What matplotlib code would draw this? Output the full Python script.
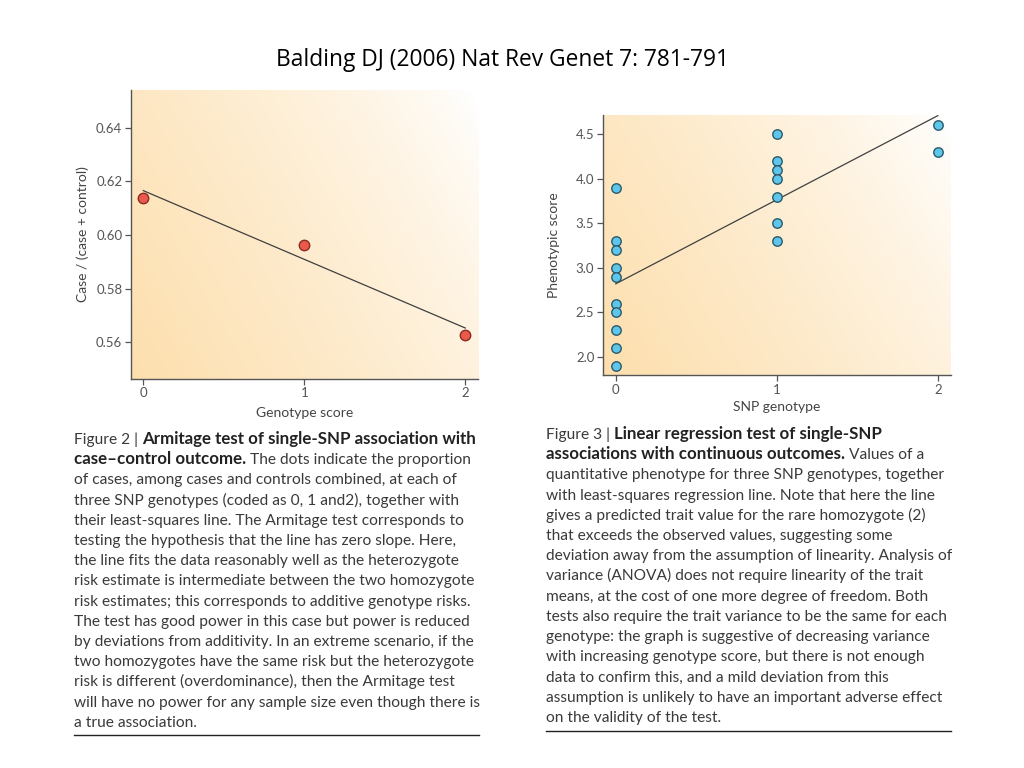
import numpy as np
import matplotlib
matplotlib.use("Agg")
import matplotlib.pyplot as plt
from matplotlib.colors import to_rgb

# ---------------- data ----------------
fig2_genotype = [0, 1, 2]
fig2_case_fraction = [0.6138, 0.5963, 0.5626]
fig2_xticks = [0, 1, 2]
fig2_yticks = [0.56, 0.58, 0.60, 0.62, 0.64]

fig3_genotype = [0] * 10 + [1] * 7 + [2] * 2
fig3_phenotype = [3.9, 3.3, 3.2, 3.0, 2.9, 2.6, 2.5, 2.3, 2.1, 1.9,
                  4.5, 4.2, 4.1, 4.0, 3.8, 3.5, 3.3,
                  4.6, 4.3]
fig3_xticks = [0, 1, 2]
fig3_yticks = [2.0, 2.5, 3.0, 3.5, 4.0, 4.5]

title_text = "Balding DJ (2006) Nat Rev Genet 7: 781-791"

caption2 = [
    [("Figure 2 | ", False), ("Armitage test of single-SNP association with", True)],
    [("case\u2013control outcome.", True), (" The dots indicate the proportion", False)],
    [("of cases, among cases and controls combined, at each of", False)],
    [("three SNP genotypes (coded as 0, 1 and2), together with", False)],
    [("their least-squares line. The Armitage test corresponds to", False)],
    [("testing the hypothesis that the line has zero slope. Here,", False)],
    [("the line fits the data reasonably well as the heterozygote", False)],
    [("risk estimate is intermediate between the two homozygote", False)],
    [("risk estimates; this corresponds to additive genotype risks.", False)],
    [("The test has good power in this case but power is reduced", False)],
    [("by deviations from additivity. In an extreme scenario, if the", False)],
    [("two homozygotes have the same risk but the heterozygote", False)],
    [("risk is different (overdominance), then the Armitage test", False)],
    [("will have no power for any sample size even though there is", False)],
    [("a true association.", False)],
]
caption3 = [
    [("Figure 3 | ", False), ("Linear regression test of single-SNP", True)],
    [("associations with continuous outcomes.", True), (" Values of a", False)],
    [("quantitative phenotype for three SNP genotypes, together", False)],
    [("with least-squares regression line. Note that here the line", False)],
    [("gives a predicted trait value for the rare homozygote (2)", False)],
    [("that exceeds the observed values, suggesting some", False)],
    [("deviation away from the assumption of linearity. Analysis of", False)],
    [("variance (ANOVA) does not require linearity of the trait", False)],
    [("means, at the cost of one more degree of freedom. Both", False)],
    [("tests also require the trait variance to be the same for each", False)],
    [("genotype: the graph is suggestive of decreasing variance", False)],
    [("with increasing genotype score, but there is not enough", False)],
    [("data to confirm this, and a mild deviation from this", False)],
    [("assumption is unlikely to have an important adverse effect", False)],
    [("on the validity of the test.", False)],
]

# ---------------- figure ----------------
W, H = 1024, 768
fig = plt.figure(figsize=(W / 100, H / 100), dpi=100)
fig.patch.set_facecolor("white")
plt.rcParams["font.family"] = ["Lato", "DejaVu Sans"]


def px_axes(x0, y0, x1, y1):
    return fig.add_axes([x0 / W, 1 - y1 / H, (x1 - x0) / W, (y1 - y0) / H])


def gradient_bg(ax):
    n = 200
    xx, yy = np.meshgrid(np.linspace(0, 1, n), np.linspace(0, 1, n))
    s = np.clip((0.68 * xx + 0.32 * yy) * 1.02, 0, 1)
    w = (1 - s) ** 0.75
    orange = np.array(to_rgb("#fddfae"))
    white = np.array([1.0, 1.0, 1.0])
    img = white[None, None, :] + (orange - white)[None, None, :] * w[..., None]
    ax.imshow(img, extent=[0, 1, 0, 1], origin="lower", transform=ax.transAxes,
              aspect="auto", zorder=0, interpolation="bilinear")


def style_axes(ax):
    for sp in ["top", "right"]:
        ax.spines[sp].set_visible(False)
    for sp in ["left", "bottom"]:
        ax.spines[sp].set_color("#555555")
        ax.spines[sp].set_linewidth(1.0)
    ax.tick_params(axis="both", direction="out", length=4, width=0.9,
                   color="#555555", labelcolor="#555555", labelsize=9.5, pad=2)


# ---- Figure 2 chart ----
ax1 = px_axes(130.7, 90, 478, 379)
gradient_bg(ax1)
ax1.set_xlim(-0.078, 2.079)
ax1.set_ylim(0.5463, 0.654)
b1 = np.polyfit(fig2_genotype, fig2_case_fraction, 1)
xl = np.array([min(fig2_genotype), max(fig2_genotype)])
ax1.plot(xl, np.polyval(b1, xl), color="#404040", lw=0.9, zorder=2)
ax1.plot(fig2_genotype, fig2_case_fraction, "o", ms=7.5, mfc="#ea5a4c",
         mec="#8a2a20", mew=1.0, zorder=3, clip_on=False)
ax1.set_xticks(fig2_xticks)
ax1.set_xticklabels([str(v) for v in fig2_xticks])
ax1.set_yticks(fig2_yticks)
ax1.set_yticklabels([f"{v:.2f}" for v in fig2_yticks])
style_axes(ax1)
ax1.set_xlabel("Genotype score", fontsize=10, color="#444444")
ax1.set_ylabel("Case / (case + control)", fontsize=10, color="#444444")
ax1.xaxis.set_label_coords(0.5, -28 / 289)
ax1.yaxis.set_label_coords(-42 / 347.3, 0.5)

# ---- Figure 3 chart ----
ax2 = px_axes(602.7, 115, 950.7, 375.3)
gradient_bg(ax2)
ax2.set_xlim(-0.081, 2.08)
ax2.set_ylim(1.795, 4.717)
b2 = np.polyfit(fig3_genotype, fig3_phenotype, 1)
xl = np.array([min(fig3_genotype), max(fig3_genotype)])
ax2.plot(xl, np.polyval(b2, xl), color="#404040", lw=0.9, zorder=2)
ax2.plot(fig3_genotype, fig3_phenotype, "o", ms=6.8, mfc="#5ec6ea",
         mec="#2a5a6c", mew=1.0, zorder=3, clip_on=False)
ax2.set_xticks(fig3_xticks)
ax2.set_xticklabels([str(v) for v in fig3_xticks])
ax2.set_yticks(fig3_yticks)
ax2.set_yticklabels([f"{v:.1f}" for v in fig3_yticks])
style_axes(ax2)
ax2.set_xlabel("SNP genotype", fontsize=10, color="#444444")
ax2.set_ylabel("Phenotypic score", fontsize=10, color="#444444")
ax2.xaxis.set_label_coords(0.5, -26 / 260.3)
ax2.yaxis.set_label_coords(-42.5 / 348, 0.5)

# ---- overlay for text ----
ov = fig.add_axes([0, 0, 1, 1], zorder=-1)
ov.set_xlim(0, W)
ov.set_ylim(H, 0)
ov.axis("off")

ov.text(502, 66, title_text, ha="center", va="baseline", fontsize=16.4,
        family=["Open Sans", "DejaVu Sans"], color="#000000")

renderer = fig.canvas.get_renderer()


def draw_caption(lines, x0, y0, dy, size, bsize):
    for i, segs in enumerate(lines):
        x = x0
        y = y0 + i * dy
        for txt, bold in segs:
            t = ov.text(x, y, txt, ha="left", va="baseline",
                        fontsize=bsize if bold else size,
                        fontweight="bold" if bold else "normal",
                        color="#222222" if bold else "#3a3a3a")
            bb = t.get_window_extent(renderer=renderer)
            x += bb.width  # 1 data unit == 1 pixel horizontally


draw_caption(caption2, 74, 444, 20.2, 11.2, 12.2)
draw_caption(caption3, 546, 439, 20.2, 11.2, 12.2)

ov.plot([74, 479], [734.5, 734.5], color="#222222", lw=1.0)
ov.plot([546, 951], [730.5, 730.5], color="#222222", lw=1.0)

fig.savefig("out.png", dpi=100, facecolor="white")
